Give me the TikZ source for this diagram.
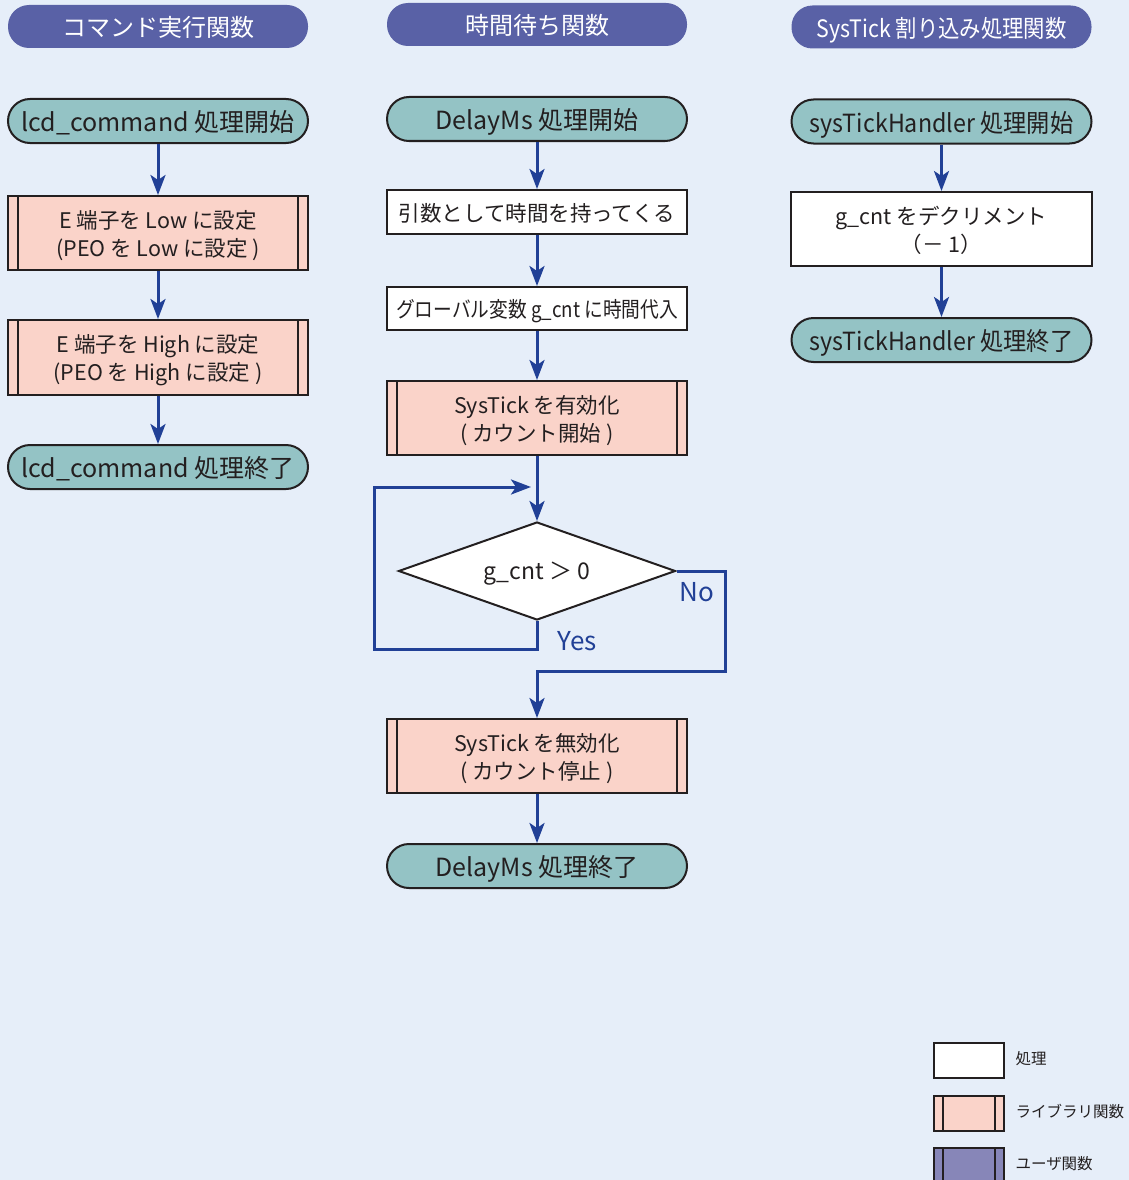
\documentclass[tikz,border=0pt]{standalone}
\usepackage{fontspec}
\setmainfont{Noto Sans CJK JP}
\usetikzlibrary{shapes.geometric,arrows.meta}

\definecolor{bgblue}{RGB}{230,238,249}
\definecolor{headfill}{RGB}{89,97,166}
\definecolor{termfill}{RGB}{148,195,197}
\definecolor{libfill}{RGB}{250,211,201}
\definecolor{userfill}{RGB}{135,134,184}
\definecolor{flowblue}{RGB}{33,64,150}
\definecolor{ink}{RGB}{35,31,32}

\tikzset{
  header/.style={rectangle, rounded corners=21pt, fill=headfill, text=white,
    minimum width=300pt, minimum height=43pt, inner sep=0pt, text depth=0pt,
    font=\fontsize{24}{27}\selectfont},
  term/.style={rectangle, rounded corners=22pt, draw=ink, line width=2pt,
    fill=termfill, text=ink, minimum width=300pt, minimum height=44pt,
    inner sep=0pt, text depth=0pt, font=\fontsize{25}{28}\selectfont},
  proc/.style={rectangle, draw=ink, line width=2pt, fill=white, text=ink,
    minimum width=300pt, inner sep=0pt, align=center, text depth=0pt,
    font=\fontsize{21.5}{28}\selectfont},
  libbox/.style={proc, fill=libfill,
    path picture={
      \draw[ink, line width=2pt]
        ([xshift=#1]path picture bounding box.south west) --
        ([xshift=#1]path picture bounding box.north west)
        ([xshift=-#1]path picture bounding box.south east) --
        ([xshift=-#1]path picture bounding box.north east);}},
  libbox/.default=10pt,
  decision/.style={diamond, draw=ink, line width=2pt, fill=white, text=ink,
    minimum width=277pt, minimum height=98pt, aspect=2.83, inner sep=0pt,
    text depth=0pt, font=\fontsize{23}{26}\selectfont},
  flow/.style={draw=flowblue, line width=3pt,
    -{Stealth[length=20pt, width=15pt, inset=5pt]}},
  branch/.style={text=flowblue, font=\fontsize{26}{29}\selectfont},
  legendtext/.style={anchor=west, text=ink, font=\fontsize{15.5}{18}\selectfont},
}

\begin{document}
\begin{tikzpicture}[x=1pt, y=-1pt]
  \useasboundingbox (0,0) rectangle (1129,1180);
  \fill[bgblue] (0,0) rectangle (1129,1180);

  % column titles
  \node[header] (h1) at (158,26.5) {コマンド実行関数};
  \node[header] (h2) at (537,24.5) {時間待ち関数};
  \node[header] (h3) at (941.5,27) {\scalebox{0.89}[1]{SysTick 割り込み処理関数}};

  % command routine
  \node[term] (c1s) at (158,121) {lcd\_command 処理開始};
  \node[libbox, minimum height=74pt] (c1a) at (158,233)
    {E 端子を Low に設定\\(PEO を Low に設定 )};
  \node[libbox, minimum height=75pt] (c1b) at (158,357.5)
    {E 端子を High に設定\\(PEO を High に設定 )};
  \node[term] (c1e) at (158,467) {lcd\_command 処理終了};
  \draw[flow] (c1s) -- (c1a);
  \draw[flow] (c1a) -- (c1b);
  \draw[flow] (c1b) -- (c1e);

  % delay routine
  \node[term] (c2s) at (537,119) {DelayMs 処理開始};
  \node[proc, minimum height=44pt] (c2a) at (537,212) {引数として時間を持ってくる};
  \node[proc, minimum height=43pt] (c2b) at (537,308.5)
    {\scalebox{0.87}[1]{グローバル変数 g\_cnt に時間代入}};
  \node[libbox, minimum height=74pt] (c2c) at (537,418)
    {SysTick を有効化\\( カウント開始 )};
  \node[decision] (dia) at (537,571) {g\_cnt ＞ 0};
  \node[libbox, minimum height=74pt] (c2d) at (537,756)
    {SysTick を無効化\\( カウント停止 )};
  \node[term] (c2e) at (537,866) {DelayMs 処理終了};

  \coordinate (yesA) at (537,649);
  \coordinate (yesB) at (374,649);
  \coordinate (yesC) at (374,487);
  \coordinate (yesD) at (531,487);
  \coordinate (noA) at (725,571);
  \coordinate (noB) at (725,671);
  \coordinate (noC) at (537,671);

  \draw[flow] (c2s) -- (c2a);
  \draw[flow] (c2a) -- (c2b);
  \draw[flow] (c2b) -- (c2c);
  \draw[flow] (c2c) -- (dia);
  \draw[flow] (dia.south) -- (yesA) -- (yesB) -- (yesC) -- (yesD);
  \draw[flow] (dia.east) -- (noA) -- (noB) -- (noC) -- (c2d.north);
  \draw[flow] (c2d) -- (c2e);
  \node[branch] (yes) at (577,641) {Yes};
  \node[branch] (no) at (697,592) {No};

  % interrupt handler
  \node[term] (c3s) at (941.5,121.5) {\scalebox{0.93}[1]{sysTickHandler 処理開始}};
  \node[proc, minimum width=301pt, minimum height=74pt] (c3a) at (941.5,229)
    {g\_cnt をデクリメント\\（－ 1）};
  \node[term] (c3e) at (941.5,340) {\scalebox{0.93}[1]{sysTickHandler 処理終了}};
  \draw[flow] (c3s) -- (c3a);
  \draw[flow] (c3a) -- (c3e);

  % legend
  \node[proc, minimum width=70pt, minimum height=35pt] (lg1) at (969,1060.5) {};
  \node[libbox=9pt, minimum width=70pt, minimum height=35pt] (lg2) at (969,1113) {};
  \node[libbox=9pt, fill=userfill, minimum width=70pt, minimum height=35pt] (lg3) at (969,1165.5) {};
  \node[legendtext] (lt1) at (1012,1059) {処理};
  \node[legendtext] (lt2) at (1012,1111) {ライブラリ関数};
  \node[legendtext] (lt3) at (1012,1164) {ユーザ関数};
\end{tikzpicture}
\end{document}
